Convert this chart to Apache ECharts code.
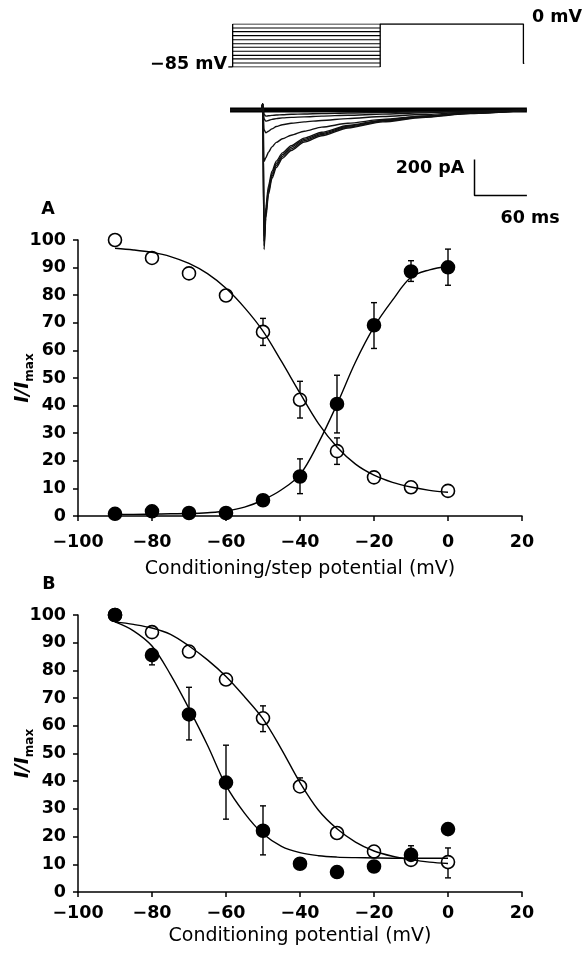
<!DOCTYPE html>
<html>
<head>
<meta charset="utf-8">
<script src="https://cdn.jsdelivr.net/npm/echarts@6/dist/echarts.min.js"></script>
<style>
  html, body { margin: 0; padding: 0; background: #fff; }
  #chart { width: 583px; height: 956px; }
</style>
</head>
<body>
<div id="chart"></div>
<script>
// ---- voltage protocol (ms, mV) ----
const protoLevels = [0, -8, -15, -23, -31, -39, -46, -54, -62, -69, -77, -85];
const protoHoldStart = -2;
const protoCondStart = 3;
const protoCondEnd = 172;
const protoTestEnd = 336;
const protoTestReturn = -78;

// ---- current traces (ms, pA) ----
const traceTime = [0, 36, 37.5, 39, 41, 44, 48, 53, 60, 70, 85, 105, 135, 175, 220, 275, 340];
const traceBig1 = [0, 0, 35, -775, -600, -470, -380, -320, -268, -225, -178, -143, -100, -66, -42, -20, -2];
const traceBig2 = [0, 0, 35, -755, -580, -455, -368, -308, -258, -216, -170, -136, -95, -62, -39, -18, -2];
const traceBig3 = [0, 0, 35, -730, -560, -440, -355, -296, -248, -207, -163, -130, -90, -59, -37, -17, -2];
const traceBig4 = [0, 0, 35, -700, -540, -422, -340, -284, -238, -198, -156, -124, -86, -56, -35, -16, -2];
const traceMid = [0, 0, 35, -285, -265, -235, -205, -180, -160, -140, -118, -95, -74, -52, -34, -15, -1];
const traceSmall1 = [0, 0, 35, -110, -127, -118, -105, -92, -82, -74, -66, -58, -48, -36, -25, -12, -1];
const traceSmall2 = [0, 0, 35, -50, -62, -58, -52, -48, -44, -41, -38, -34, -29, -23, -16, -8, 0];
const traceSmall3 = [0, 0, 35, -25, -34, -32, -30, -28, -26, -24, -22, -20, -17, -14, -10, -5, 0];
const scaleBarT = [280, 280, 340];
const scaleBarI = [-275, -475, -475];

// ---- panel A: conditioning/step potential ----
const potentials = [-90, -80, -70, -60, -50, -40, -30, -20, -10, 0];
const aOpen = [100, 93.5, 87.9, 79.9, 66.7, 42.1, 23.5, 14.0, 10.4, 9.1];
const aFilled = [0.8, 1.7, 1.1, 1.1, 5.7, 14.3, 40.6, 69.1, 88.6, 90.1];
const aOpenErrV = [-50, -40, -30];
const aOpenErrLo = [61.8, 35.5, 18.7];
const aOpenErrHi = [71.6, 48.8, 28.3];
const aFilledErrV = [-40, -30, -20, -10, 0];
const aFilledErrLo = [8.1, 30.1, 60.7, 85.0, 83.6];
const aFilledErrHi = [20.7, 51.0, 77.3, 92.5, 96.7];

const fitV = [-90, -85, -80, -75, -70, -65, -60, -55, -50, -45, -40, -35, -30, -25, -20, -15, -10, -5, 0];
const aOpenFit = [97.0, 96.4, 95.5, 94.0, 91.5, 87.8, 82.5, 75.5, 67.0, 56.0, 44.5, 33.5, 25.0, 18.8, 14.8, 12.2, 10.5, 9.3, 8.6];
const aFilledFit = [0.6, 0.6, 0.7, 0.8, 0.9, 1.2, 1.8, 3.2, 5.8, 9.5, 15.0, 26.5, 40.5, 55.8, 68.5, 78.2, 86.5, 89.2, 90.4];

// ---- panel B: conditioning potential ----
const bOpen = [100, 93.8, 86.8, 76.7, 62.7, 38.1, 21.3, 14.6, 11.6, 10.8];
const bFilled = [100, 85.5, 64.1, 39.5, 22.1, 10.2, 7.2, 9.2, 13.4, 22.7];
const bOpenErrV = [-50, -40, -10, 0];
const bOpenErrLo = [57.9, 38.1, 11.6, 5.1];
const bOpenErrHi = [67.2, 41.2, 16.7, 15.9];
const bFilledErrV = [-80, -70, -60, -50];
const bFilledErrLo = [82.0, 54.9, 26.3, 13.4];
const bFilledErrHi = [87.5, 73.9, 53.0, 31.1];
const bOpenFit = [97.5, 96.6, 95.3, 93.0, 88.8, 83.8, 77.8, 70.5, 62.5, 51.5, 39.5, 29.5, 22.8, 18.0, 14.8, 12.9, 11.7, 10.8, 10.3];
const bFilledFit = [97.5, 94.3, 88.8, 78.5, 66.2, 53.0, 38.5, 28.5, 21.0, 16.5, 14.2, 13.1, 12.6, 12.4, 12.3, 12.2, 12.2, 12.2, 12.2];

const xTicks = { min: -100, max: 20, interval: 20 };
const yTicks = { min: 0, max: 100, interval: 10 };

const FONT = 'DejaVu Sans';
const zip = (xs, ys) => xs.map((x, i) => [x, ys[i]]);
const minus = v => (v < 0 ? '\u2212' + (-v) : String(v));

function plainLine(xi, data, width) {
  return {
    type: 'line', xAxisIndex: xi, yAxisIndex: xi, data: data,
    showSymbol: false, symbol: 'none', silent: true,
    lineStyle: { color: '#000', width: width || 1.3 }
  };
}

function traceLine(values) {
  return {
    type: 'line', xAxisIndex: 1, yAxisIndex: 1, data: zip(traceTime, values),
    showSymbol: false, symbol: 'none', silent: true,
    smooth: 0.25, smoothMonotone: 'x',
    lineStyle: { color: '#111', width: 1.4 }
  };
}

function errSeries(ai, xs, lo, hi) {
  return {
    type: 'custom', xAxisIndex: ai, yAxisIndex: ai, silent: true,
    data: xs.map((x, i) => [x, lo[i], hi[i]]),
    encode: { x: 0, y: [1, 2] },
    renderItem: function (params, api) {
      const x = api.value(0);
      const p1 = api.coord([x, api.value(1)]);
      const p2 = api.coord([x, api.value(2)]);
      const w = 3;
      const st = { stroke: '#000', lineWidth: 1.4 };
      return {
        type: 'group',
        children: [
          { type: 'line', shape: { x1: p1[0], y1: p1[1], x2: p2[0], y2: p2[1] }, style: st },
          { type: 'line', shape: { x1: p1[0] - w, y1: p1[1], x2: p1[0] + w, y2: p1[1] }, style: st },
          { type: 'line', shape: { x1: p2[0] - w, y1: p2[1], x2: p2[0] + w, y2: p2[1] }, style: st }
        ]
      };
    }
  };
}

function dots(ai, values, filled) {
  return {
    type: 'scatter', xAxisIndex: ai, yAxisIndex: ai, silent: true,
    data: zip(potentials, values), symbol: 'circle', symbolSize: 13,
    itemStyle: { color: filled ? '#000' : '#fff', borderColor: '#000', borderWidth: 1.6, opacity: 1 }
  };
}

const labelStyle = { color: '#000', fontFamily: FONT, fontWeight: 'bold', fontSize: 17.5 };

function dataXAxis(gi, margin, nameGap, name) {
  return {
    gridIndex: gi, type: 'value', min: xTicks.min, max: xTicks.max, interval: xTicks.interval,
    name: name, nameLocation: 'middle', nameGap: nameGap, nameMoveOverlap: false,
    nameTextStyle: { color: '#000', fontFamily: FONT, fontSize: 19 },
    axisLine: { onZero: false, lineStyle: { color: '#000', width: 1.5 } },
    axisTick: { inside: false, length: 5, lineStyle: { color: '#000', width: 1.5 } },
    axisLabel: Object.assign({ margin: margin, formatter: minus }, labelStyle),
    splitLine: { show: false }
  };
}

function dataYAxis(gi) {
  return {
    gridIndex: gi, type: 'value', min: yTicks.min, max: yTicks.max, interval: yTicks.interval,
    name: '{i|I/I}{s|max}', nameLocation: 'middle', nameRotate: 90, nameGap: 42, nameMoveOverlap: false,
    nameTextStyle: {
      rich: {
        i: { fontFamily: FONT, fontWeight: 'bold', fontStyle: 'italic', fontSize: 19, color: '#000', lineHeight: 22, verticalAlign: 'top' },
        s: { fontFamily: FONT, fontWeight: 'bold', fontSize: 12, color: '#000', lineHeight: 12, padding: [10, 0, 0, 0], verticalAlign: 'top' }
      }
    },
    axisLine: { show: true, onZero: false, lineStyle: { color: '#000', width: 1.5 } },
    axisTick: { show: true, inside: false, length: 5, lineStyle: { color: '#000', width: 1.5 } },
    axisLabel: Object.assign({ margin: 12 }, labelStyle),
    splitLine: { show: false }
  };
}

const chart = echarts.init(document.getElementById('chart'), null, { renderer: 'canvas' });

const series = [];
// protocol
series.push(plainLine(0, [[protoHoldStart, -85], [protoCondStart, -85]], 1.3));
protoLevels.forEach(L => series.push(plainLine(0, [[protoCondStart, L], [protoCondEnd, L]], 1.1)));
series.push(plainLine(0, [[protoCondStart, -85], [protoCondStart, 0]], 1.3));
series.push(plainLine(0, [[protoCondEnd, -85], [protoCondEnd, 0], [protoTestEnd, 0], [protoTestEnd, protoTestReturn], [protoTestEnd + 1, protoTestReturn]], 1.3));
// traces
series.push(plainLine(1, [[traceTime[0], 0], [traceTime[traceTime.length - 1], 0]], 5));
[traceBig1, traceBig2, traceBig3, traceBig4, traceMid, traceSmall1, traceSmall2, traceSmall3].forEach(t => series.push(traceLine(t)));
series.push(plainLine(1, zip(scaleBarT, scaleBarI), 1.5));
// panel A
series.push(errSeries(2, aOpenErrV, aOpenErrLo, aOpenErrHi));
series.push(errSeries(2, aFilledErrV, aFilledErrLo, aFilledErrHi));
series.push(Object.assign(plainLine(2, zip(fitV, aOpenFit), 1.4), { smooth: 0.35 }));
series.push(Object.assign(plainLine(2, zip(fitV, aFilledFit), 1.4), { smooth: 0.35 }));
series.push(dots(2, aOpen, false));
series.push(dots(2, aFilled, true));
// panel B
series.push(errSeries(3, bOpenErrV, bOpenErrLo, bOpenErrHi));
series.push(errSeries(3, bFilledErrV, bFilledErrLo, bFilledErrHi));
series.push(Object.assign(plainLine(3, zip(fitV, bOpenFit), 1.4), { smooth: 0.35 }));
series.push(Object.assign(plainLine(3, zip(fitV, bFilledFit), 1.4), { smooth: 0.35 }));
series.push(dots(3, bOpen, false));
series.push(dots(3, bFilled, true));

const txt = (x, y, text, align) => ({
  type: 'text', x: x, y: y, silent: true,
  style: { text: text, fill: '#000', font: 'bold 17.5px "DejaVu Sans"', textAlign: align || 'center', textVerticalAlign: 'middle' }
});

const gridBase = { outerBoundsMode: 'none', containLabel: false };

chart.setOption({
  animation: false,
  backgroundColor: '#fff',
  grid: [
    Object.assign({ left: 221.3, top: 24, width: 305.6, height: 43 }, gridBase),
    Object.assign({ left: 221.3, top: 101, width: 305.6, height: 153 }, gridBase),
    Object.assign({ left: 78, top: 240, width: 444, height: 276 }, gridBase),
    Object.assign({ left: 78, top: 615, width: 444, height: 277 }, gridBase)
  ],
  xAxis: [
    { gridIndex: 0, type: 'value', min: -10, max: 340, show: false },
    { gridIndex: 1, type: 'value', min: -10, max: 340, show: false },
    dataXAxis(2, 17, 44, 'Conditioning/step potential (mV)'),
    dataXAxis(3, 12, 35, 'Conditioning potential (mV)')
  ],
  yAxis: [
    { gridIndex: 0, type: 'value', min: -85, max: 0, show: false },
    { gridIndex: 1, type: 'value', min: -800, max: 50, show: false },
    dataYAxis(2),
    dataYAxis(3)
  ],
  graphic: [
    txt(557, 17, '0 mV'),
    txt(227, 64, '\u221285 mV', 'right'),
    txt(430, 168, '200 pA'),
    txt(530, 218, '60 ms'),
    txt(48, 209, 'A'),
    txt(49, 584, 'B')
  ],
  series: series
});
</script>
</body>
</html>
